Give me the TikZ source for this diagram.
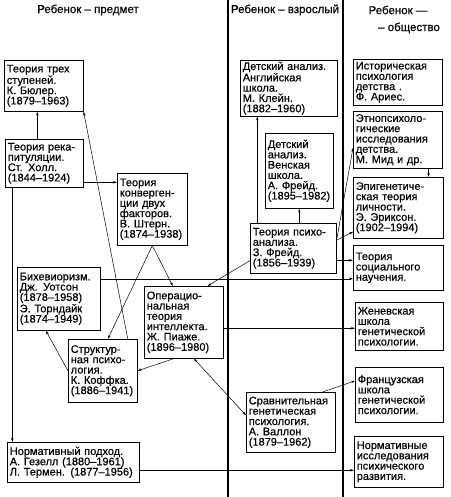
\documentclass[tikz,border=0pt]{standalone}
\usepackage{fontspec}
\setmainfont{Liberation Sans}[FakeBold=0.5]
\usetikzlibrary{arrows.meta}
\tikzset{
  box/.style 2 args={draw, line width=0.6pt, anchor=north west, align=left,
    inner xsep=2.5pt, inner ysep=1.5pt, text width=#1-5pt,
    minimum height=#2,
    font=\fontsize{11}{10.3}\selectfont},
  head/.style={font=\fontsize{11.5}{12}\selectfont},
  border/.style={line width=1.6pt},
  >={Stealth[length=4pt,width=2.4pt]}
}
\begin{document}
\begin{tikzpicture}[x=1pt,y=-1pt]
  \useasboundingbox (0,0) rectangle (450,497);
  \draw[border] (228,0) -- (228,497);
  \draw[border] (343,0) -- (343,497);
  \node[head] (hobj) at (88,10) {Ребенок – предмет};
  \node[head] (hadult) at (285,10) {Ребенок – взрослый};
  \node[head] (hsoc) at (398,10) {Ребенок —};
  \node[head] (hsoc2) at (409,28) {– общество};

  \node[box={79pt}{51pt}] (buhler) at (4,60) {Теория трех\\ступеней.\\К. Бюлер.\\(1879–1963)};
  \node[box={78pt}{48pt}] (holl) at (5,139) {Теория река-\\питуляции.\\Ст. Холл.\\(1844–1924)};
  \node[box={70pt}{72pt}] (stern) at (117,173) {Теория\\конверген-\\ции двух\\факторов.\\В. Штерн.\\(1874–1938)};
  \node[box={83pt}{63pt}] (behav) at (17,267) {Бихевиоризм.\\Дж. Уотсон\\(1878–1958)\\Э. Торндайк\\(1874–1949)};
  \node[box={79pt}{72pt}] (piaget) at (144,286) {Операцио-\\нальная\\теория\\интеллекта.\\Ж. Пиаже.\\(1896–1980)};
  \node[box={69pt}{63pt}] (koffka) at (68,339) {Структур-\\ная психо-\\логия.\\К. Коффка.\\(1886–1941)};
  \node[box={132pt}{40pt}] (gesell) at (7,442) {Нормативный подход.\\А. Гезелл (1880–1961)\\Л. Термен. (1877–1956)};

  \node[box={97pt}{52pt}] (klein) at (240,60) {Детский анализ.\\Английская\\школа.\\М. Клейн.\\(1882–1960)};
  \node[box={68pt}{75pt}] (afreud) at (265,133) {Детский\\анализ.\\Венская\\школа.\\А. Фрейд.\\(1895–1982)};
  \node[box={86pt}{50pt}] (freud) at (250,223) {Теория психо-\\анализа.\\З. Фрейд.\\(1856–1939)};
  \node[box={89pt}{60pt}] (wallon) at (246,392) {Сравнительная\\генетическая\\психология.\\А. Валлон\\(1879–1962)};

  \node[box={89pt}{46pt}] (aries) at (353,59) {Историческая\\психология\\детства .\\Ф. Ариес.};
  \node[box={89pt}{57pt}] (ethno) at (353,111) {Этнопсихоло-\\гические\\исследования\\детства.\\М. Мид и др.};
  \node[box={90pt}{61pt}] (erikson) at (353,177) {Эпигенетиче-\\ская теория\\личности.\\Э. Эриксон.\\(1902–1994)};
  \node[box={90pt}{45pt}] (social) at (353,245) {Теория\\социального\\научения.};
  \node[box={88pt}{48pt}] (geneva) at (355,302) {Женевская\\школа\\генетической\\психологии.};
  \node[box={88pt}{55pt}] (french) at (355,367) {Французская\\школа\\генетической\\психологии.};
  \node[box={89pt}{51pt}] (norm) at (354,436) {Нормативные\\исследования\\психического\\развития.};

  \begin{scope}[->, line width=0.5pt]
    \draw ([xshift=-7pt]holl.north) -- ([xshift=-7pt]holl.north |- buhler.south);
    \draw ([xshift=25pt]koffka.north) -- (buhler.south east);
    \draw ([yshift=-19pt]holl.east) -- ([yshift=-19pt]holl.east -| stern.west);
    \draw ([xshift=-32pt]holl.south) -- ([xshift=-32pt]holl.south |- gesell.north);
    \draw (stern.south) -- ([xshift=5pt]koffka.north);
    \draw (stern.south) -- ([xshift=-11pt]piaget.north);
    \draw ([yshift=20pt]behav.east) -- ([yshift=20pt]behav.east -| social.west);
    \draw ([xshift=-36pt]freud.north) -- ([xshift=-36pt]freud.north |- klein.south);
    \draw (freud.north -| afreud.south) -- (afreud.south);
    \draw ([yshift=8pt]freud.east) -- ([yshift=-8pt]ethno.west);
    \draw ([yshift=8pt]freud.east) -- ([yshift=-24pt]erikson.west);
    \draw ([yshift=-12pt]freud.east) -- ([yshift=-12pt]freud.east -| social.west);
    \draw ([yshift=13pt]freud.south west) -- ([xshift=-16pt]piaget.north east);
    \draw ([xshift=-14pt]ethno.south east) -- ([xshift=-14pt]ethno.south east |- erikson.north);
    \draw ([xshift=-10pt]piaget.south) -- (koffka.east);
    \draw ([yshift=-6pt]piaget.east) -- ([yshift=-6pt]piaget.east -| geneva.west);
    \draw[<->] ([xshift=10pt]piaget.south) -- ([yshift=7pt]wallon.west);
    \draw ([xshift=-13pt]wallon.north east) -- ([yshift=14pt]french.west);
    \draw ([yshift=-8pt]gesell.east) -- ([yshift=-8pt]gesell.east -| norm.west);
    \draw (koffka.west) -- ([xshift=-13pt]behav.south);
  \end{scope}
\end{tikzpicture}
\end{document}
